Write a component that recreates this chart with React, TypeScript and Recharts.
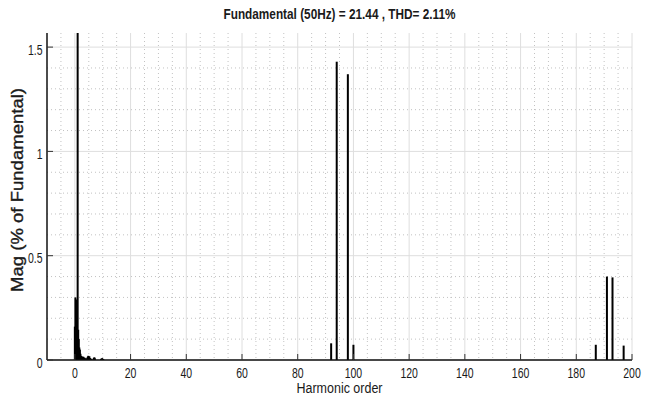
import { ComposedChart, Bar, XAxis, YAxis, CartesianGrid } from 'recharts';

// harmonic order of each FFT bin (fractional bins near the fundamental)
const harmonicOrder = [
  0, 0.2, 0.4, 0.6, 0.8, 1, 1.2, 1.4, 1.6, 1.8, 2, 2.2, 2.4, 2.6, 2.8, 3, 3.2, 3.4, 3.6, 3.8,
  4, 4.2, 4.4, 4.6, 4.8, 5, 5.2, 5.4, 5.6, 5.8, 6, 6.8, 7, 7.2, 9.4, 9.8, 10.2,
  92, 94, 98, 100, 187, 191, 193, 197,
];
// magnitude, % of fundamental
const magnitude = [
  0.16, 0.3, 0.29, 0.2, 0.145, 100, 0.145, 0.1, 0.06, 0.05, 0.03, 0.02, 0.018, 0.015, 0.012, 0.016, 0.01, 0.012, 0.008, 0.006,
  0.007, 0.005, 0.008, 0.015, 0.02, 0.012, 0.018, 0.01, 0.008, 0.004, 0.005, 0.01, 0.013, 0.008, 0.006, 0.009, 0.005,
  0.08, 1.43, 1.37, 0.073, 0.073, 0.4, 0.396, 0.069,
];

const xTicks = [0, 20, 40, 60, 80, 100, 120, 140, 160, 180, 200];
const xMinor = [-5, 5, 10, 15, 25, 30, 35, 45, 50, 55, 65, 70, 75, 85, 90, 95, 105, 110, 115, 125, 130, 135, 145, 150, 155, 165, 170, 175, 185, 190, 195];
const yTicks = [0, 0.5, 1, 1.5];
const yMinor = [0.1, 0.2, 0.3, 0.4, 0.6, 0.7, 0.8, 0.9, 1.1, 1.2, 1.3, 1.4];

const title = 'Fundamental (50Hz) = 21.44 , THD= 2.11%';
const xLabel = 'Harmonic order';
const yLabel = 'Mag (% of Fundamental)';

const data = harmonicOrder.map((h, i) => ({ h, mag: magnitude[i] }));

const FONT = '"Liberation Sans", Arial, sans-serif';
const TXT = '#1a1a1a';

const Stem = (props: any) => {
  const { x, y, width, height } = props;
  if (height == null || isNaN(height)) return null;
  const cx = x + width / 2;
  return <rect x={cx - 1} y={y} width={2} height={Math.max(height, 0)} fill="#000" />;
};

const BottomTick = (props: any) => {
  const { x, y, payload } = props;
  return (
    <g>
      <line x1={x} y1={y} x2={x} y2={y - 6} stroke="#333" />
      <text
        transform={`translate(${x},${y + 18}) scale(0.7,1)`}
        textAnchor="middle"
        fontSize={15}
        fontFamily={FONT}
        fill={TXT}
      >
        {payload.value}
      </text>
    </g>
  );
};

const TopTick = (props: any) => {
  const { x, y } = props;
  return <line x1={x} y1={y} x2={x} y2={y + 6} stroke="#333" />;
};

const LeftTick = (props: any) => {
  const { x, y, payload } = props;
  return (
    <g>
      <line x1={x} y1={y} x2={x + 6} y2={y} stroke="#333" />
      <text
        transform={`translate(${x - 4.5},${y + 7.5}) scale(0.7,1)`}
        textAnchor="end"
        fontSize={15}
        fontFamily={FONT}
        fill={TXT}
      >
        {payload.value}
      </text>
    </g>
  );
};

const RightTick = (props: any) => {
  const { x, y } = props;
  return <line x1={x} y1={y} x2={x - 6} y2={y} stroke="#333" />;
};

export default function App() {
  return (
    <div style={{ position: 'absolute', left: 0, top: 0, width: 645, height: 408, background: '#fff' }}>
      <ComposedChart width={645} height={408} data={data} margin={{ top: 33, right: 13, bottom: 0, left: 0 }}>
        <CartesianGrid
          xAxisId="b"
          yAxisId="l"
          verticalValues={xMinor}
          horizontalValues={yMinor}
          stroke="#c2c2c2"
          strokeDasharray="1 3"
        />
        <CartesianGrid
          xAxisId="b"
          yAxisId="l"
          verticalValues={xTicks}
          horizontalValues={yTicks}
          stroke="#dedede"
        />
        <XAxis
          xAxisId="b"
          dataKey="h"
          type="number"
          domain={[-10, 200]}
          ticks={xTicks}
          interval={0}
          allowDataOverflow
          height={48}
          tickSize={0}
          tickMargin={0}
          tick={<BottomTick />}
          axisLine={{ stroke: '#111', strokeWidth: 1.5 }}
        />
        <XAxis
          xAxisId="t"
          orientation="top"
          dataKey="h"
          type="number"
          domain={[-10, 200]}
          ticks={xTicks}
          interval={0}
          allowDataOverflow
          height={0}
          tickSize={0}
          tickMargin={0}
          tick={<TopTick />}
          axisLine={{ stroke: '#444' }}
        />
        <YAxis
          yAxisId="l"
          type="number"
          domain={[0, 1.5676]}
          ticks={yTicks}
          interval={0}
          allowDataOverflow
          width={47}
          tickSize={0}
          tickMargin={0}
          tick={<LeftTick />}
          axisLine={{ stroke: '#111', strokeWidth: 1.5 }}
        />
        <YAxis
          yAxisId="r"
          orientation="right"
          type="number"
          domain={[0, 1.5676]}
          ticks={yTicks}
          interval={0}
          allowDataOverflow
          width={0}
          tickSize={0}
          tickMargin={0}
          tick={<RightTick />}
          axisLine={{ stroke: '#444' }}
        />
        <Bar
          xAxisId="b"
          yAxisId="l"
          dataKey="mag"
          fill="#000"
          shape={<Stem />}
          isAnimationActive={false}
        />
        <text
          x={339.5}
          y={19}
          textAnchor="middle"
          fontSize={15}
          fontWeight="bold"
          fontFamily={FONT}
          fill={TXT}
          textLength={232}
          lengthAdjust="spacingAndGlyphs"
        >
          {title}
        </text>
        <text
          x={339.5}
          y={393}
          textAnchor="middle"
          fontSize={14}
          fontFamily={FONT}
          fill={TXT}
          textLength={86}
          lengthAdjust="spacingAndGlyphs"
        >
          {xLabel}
        </text>
        <text
          transform="translate(23,190) rotate(-90)"
          textAnchor="middle"
          fontSize={16}
          fontFamily={FONT}
          fill={TXT}
          stroke={TXT}
          strokeWidth={0.35}
          textLength={204}
          lengthAdjust="spacingAndGlyphs"
        >
          {yLabel}
        </text>
      </ComposedChart>
    </div>
  );
}
